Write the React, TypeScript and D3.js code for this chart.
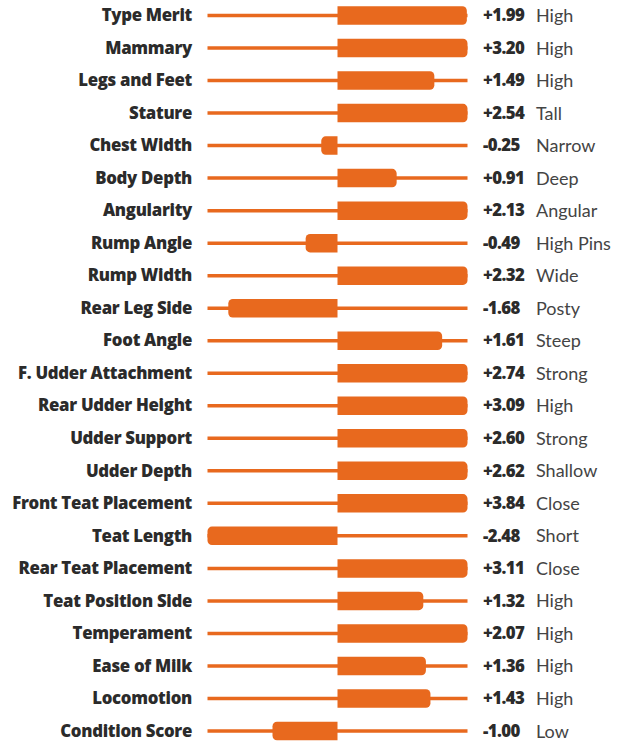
import React from "react";
import * as d3 from "d3";

const traits = [
  "Type Merit", "Mammary", "Legs and Feet", "Stature", "Chest Width", "Body Depth",
  "Angularity", "Rump Angle", "Rump Width", "Rear Leg Side", "Foot Angle",
  "F. Udder Attachment", "Rear Udder Height", "Udder Support", "Udder Depth",
  "Front Teat Placement", "Teat Length", "Rear Teat Placement", "Teat Position Side",
  "Temperament", "Ease of Milk", "Locomotion", "Condition Score",
];
const values = [
  1.99, 3.2, 1.49, 2.54, -0.25, 0.91, 2.13, -0.49, 2.32, -1.68, 1.61, 2.74, 3.09,
  2.6, 2.62, 3.84, -2.48, 3.11, 1.32, 2.07, 1.36, 1.43, -1.0,
];
const descriptors = [
  "High", "High", "High", "Tall", "Narrow", "Deep", "Angular", "High Pins", "Wide",
  "Posty", "Steep", "Strong", "High", "Strong", "Shallow", "Close", "Short", "Close",
  "High", "High", "High", "High", "Low",
];

const W = 624;
const H = 745;
const ORANGE = "#E8691E";
const BOLD_FONT = "'Open Sans', Lato, sans-serif";
const FONT = "Lato, 'Open Sans', sans-serif";

function barPath(x0: number, x1: number, yc: number, h: number, r: number) {
  const top = yc - h / 2;
  const bot = yc + h / 2;
  const p = d3.path();
  const dir = x1 >= x0 ? 1 : -1;
  const rr = Math.min(r, Math.abs(x1 - x0) / 2);
  p.moveTo(x0, top);
  p.lineTo(x1 - dir * rr, top);
  p.arcTo(x1, top, x1, top + rr, rr);
  p.lineTo(x1, bot - rr);
  p.arcTo(x1, bot, x1 - dir * rr, bot, rr);
  p.lineTo(x0, bot);
  p.closePath();
  return p.toString();
}

export default function App() {
  const x = d3.scaleLinear().domain([-2, 2]).range([207.5, 467.5]).clamp(true);
  const y = d3.scalePoint<string>().domain(traits).range([15.5, 731]);
  const fmt = (v: number) => (v >= 0 ? "+" : "-") + d3.format(".2f")(Math.abs(v));

  return (
    <svg
      width={W}
      height={H}
      style={{ position: "absolute", left: 0, top: 0, background: "#fff" }}
    >
      {traits.map((t, i) => {
        const yc = y(t) as number;
        const v = values[i];
        return (
          <g key={t}>
            <text
              x={192}
              y={yc - 0.8}
              textAnchor="end"
              dominantBaseline="central"
              fontFamily={BOLD_FONT}
              fontWeight={800}
              fontSize={16.8}
              letterSpacing={-0.3}
              fill="#2b2b2b"
            >
              {t}
            </text>
            <line
              x1={x(-2)}
              x2={x(2)}
              y1={yc}
              y2={yc}
              stroke={ORANGE}
              strokeWidth={3.5}
            />
            <path d={barPath(x(0), x(v), yc, 18.5, 4.5)} fill={ORANGE} />
            <text
              x={483}
              y={yc - 0.8}
              dominantBaseline="central"
              fontFamily={BOLD_FONT}
              fontWeight={800}
              fontSize={16.8}
              fill="#2b2b2b"
              letterSpacing={-0.6}
            >
              {fmt(v)}
            </text>
            <text
              x={536}
              y={yc - 0.5}
              dominantBaseline="central"
              fontFamily={FONT}
              fontSize={18}
              fill="#444"
            >
              {descriptors[i]}
            </text>
          </g>
        );
      })}
    </svg>
  );
}
